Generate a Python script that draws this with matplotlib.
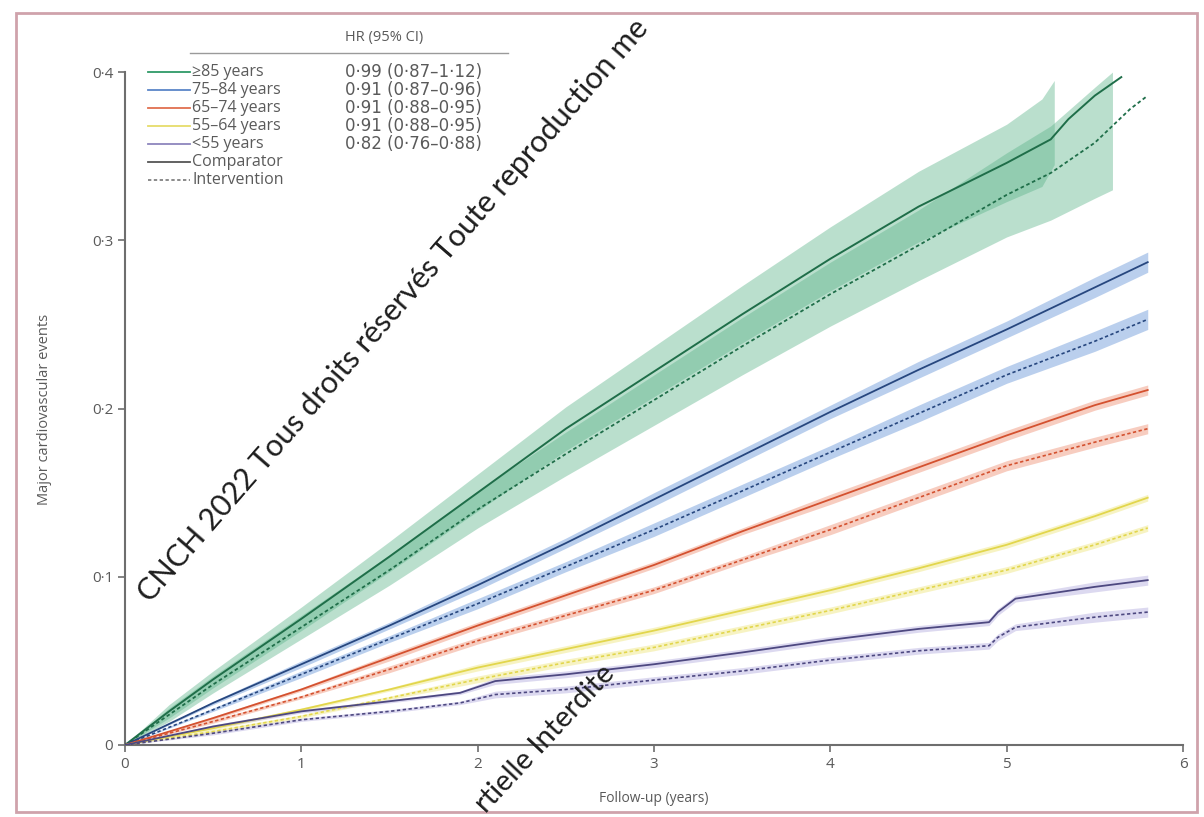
import matplotlib
matplotlib.use("Agg")
import matplotlib.pyplot as plt
from matplotlib.patches import Rectangle
from matplotlib.lines import Line2D

W, H = 1204, 817


def fx(px):
    return px / W


def fy(py):
    return 1 - py / H


# ---- data -------------------------------------------------------------
groups = ["\u226585 years", "75\u201384 years", "65\u201374 years", "55\u201364 years", "<55 years"]
hr_text = ["0\u00b799 (0\u00b787\u20131\u00b712)", "0\u00b791 (0\u00b787\u20130\u00b796)",
           "0\u00b791 (0\u00b788\u20130\u00b795)", "0\u00b791 (0\u00b788\u20130\u00b795)",
           "0\u00b782 (0\u00b776\u20130\u00b788)"]

# >=85 years (green)
t_g_comp = [0, 0.25, 0.5, 0.75, 1, 1.5, 2, 2.5, 3, 3.5, 4, 4.5, 5, 5.25, 5.35, 5.5, 5.65]
g_comp = [0, 0.020, 0.039, 0.057, 0.075, 0.112, 0.150, 0.188, 0.222, 0.256, 0.289, 0.320,
          0.346, 0.360, 0.372, 0.386, 0.397]
t_g_int = [0, 0.25, 0.5, 0.75, 1, 1.5, 2, 2.5, 3, 3.5, 4, 4.5, 5, 5.25, 5.5, 5.6, 5.7, 5.8]
g_int = [0, 0.018, 0.036, 0.053, 0.070, 0.104, 0.140, 0.173, 0.205, 0.237, 0.268, 0.297,
         0.327, 0.340, 0.358, 0.368, 0.378, 0.386]
t_g_comp_band = [0, 0.25, 0.5, 0.75, 1, 1.5, 2, 2.5, 3, 3.5, 4, 4.5, 5, 5.2, 5.27]
g_comp_lo = [0, 0.016, 0.034, 0.051, 0.068, 0.103, 0.139, 0.175, 0.207, 0.239, 0.270, 0.299,
             0.323, 0.332, 0.345]
g_comp_hi = [0, 0.024, 0.044, 0.063, 0.082, 0.121, 0.161, 0.201, 0.237, 0.273, 0.308, 0.341,
             0.369, 0.384, 0.395]
t_g_int_band = [0, 0.25, 0.5, 0.75, 1, 1.5, 2, 2.5, 3, 3.5, 4, 4.5, 5, 5.25, 5.5, 5.6]
g_int_lo = [0, 0.014, 0.031, 0.047, 0.063, 0.095, 0.129, 0.160, 0.190, 0.220, 0.249, 0.276,
            0.302, 0.312, 0.325, 0.330]
g_int_hi = [0, 0.022, 0.041, 0.059, 0.077, 0.113, 0.151, 0.186, 0.220, 0.254, 0.287, 0.318,
            0.352, 0.368, 0.391, 0.400]

# other age groups share one time grid
t_std = [0, 0.5, 1, 1.5, 2, 2.5, 3, 3.5, 4, 4.5, 5, 5.5, 5.8]
b_comp = [0, 0.025, 0.048, 0.071, 0.095, 0.120, 0.146, 0.172, 0.198, 0.223, 0.247, 0.272, 0.287]
b_int = [0, 0.021, 0.042, 0.063, 0.084, 0.106, 0.128, 0.151, 0.174, 0.197, 0.220, 0.240, 0.253]
b_hw = [0, 0.001, 0.002, 0.002, 0.003, 0.003, 0.004, 0.004, 0.004, 0.005, 0.005, 0.006, 0.006]

r_comp = [0, 0.016, 0.033, 0.052, 0.071, 0.089, 0.107, 0.127, 0.146, 0.165, 0.184, 0.202, 0.211]
r_int = [0, 0.014, 0.0285, 0.045, 0.062, 0.077, 0.092, 0.110, 0.128, 0.147, 0.166, 0.180, 0.188]
r_hw = [0, 0.001, 0.001, 0.002, 0.002, 0.002, 0.002, 0.002, 0.003, 0.003, 0.003, 0.003, 0.003]

y_comp = [0, 0.010, 0.021, 0.033, 0.046, 0.057, 0.068, 0.080, 0.092, 0.105, 0.119, 0.136, 0.147]
y_int = [0, 0.008, 0.017, 0.028, 0.039, 0.049, 0.058, 0.069, 0.080, 0.092, 0.104, 0.119, 0.129]
y_hw = [0, 0.001, 0.001, 0.001, 0.002, 0.002, 0.002, 0.002, 0.002, 0.002, 0.002, 0.002, 0.002]

t_p = [0, 0.5, 1, 1.5, 1.9, 2.1, 2.5, 3, 3.5, 4, 4.5, 4.9, 4.95, 5.05, 5.5, 5.8]
p_comp = [0, 0.011, 0.020, 0.026, 0.031, 0.038, 0.042, 0.048, 0.055, 0.0625, 0.069, 0.073,
          0.079, 0.087, 0.094, 0.098]
p_int = [0, 0.007, 0.015, 0.020, 0.025, 0.030, 0.033, 0.0386, 0.044, 0.0505, 0.056, 0.059,
         0.064, 0.070, 0.076, 0.079]
p_hw = [0, 0.001, 0.001, 0.001, 0.001, 0.002, 0.002, 0.002, 0.002, 0.002, 0.002, 0.002,
        0.002, 0.002, 0.003, 0.003]

x_ticks = [0, 1, 2, 3, 4, 5, 6]
y_ticks = [0, 0.1, 0.2, 0.3, 0.4]
y_tick_labels = ["0", "0\u00b71", "0\u00b72", "0\u00b73", "0\u00b74"]

# ---- styling -----------------------------------------------------------
FONT = ["Open Sans", "DejaVu Sans"]
plt.rcParams["font.family"] = FONT
TXT = "#5a5a5a"
AX = "#6e6e6e"

col = {
    "g": ("#1f6e49", "#5cb48a", 0.42, "#2f9a68"),
    "b": ("#27477f", "#8db0e2", 0.6, "#5b86c8"),
    "r": ("#d4512f", "#f2a48d", 0.55, "#e0704f"),
    "y": ("#e2d64c", "#f2ec9c", 0.6, "#e6dc6a"),
    "p": ("#4d4880", "#c6c0e6", 0.6, "#8d86bd"),
}

fig = plt.figure(figsize=(12.04, 8.17), dpi=100)
ax = fig.add_axes([fx(125), fy(745), fx(1183) - fx(125), fy(30) - fy(745)])

# green bands and lines
ax.fill_between(t_g_comp_band, g_comp_lo, g_comp_hi, color=col["g"][1], alpha=col["g"][2],
                lw=0, zorder=1)
ax.fill_between(t_g_int_band, g_int_lo, g_int_hi, color=col["g"][1], alpha=col["g"][2],
                lw=0, zorder=1)
ax.plot(t_g_comp, g_comp, color=col["g"][0], lw=1.4, zorder=3)
ax.plot(t_g_int, g_int, color=col["g"][0], lw=1.3, ls=(0, (2, 1.5)), zorder=3)

series = [
    ("b", t_std, b_comp, b_int, b_hw),
    ("r", t_std, r_comp, r_int, r_hw),
    ("y", t_std, y_comp, y_int, y_hw),
    ("p", t_p, p_comp, p_int, p_hw),
]
for key, t, comp, inter, hw in series:
    line_c, band_c, a, _ = col[key]
    lo_c = [v - h for v, h in zip(comp, hw)]
    hi_c = [v + h for v, h in zip(comp, hw)]
    lo_i = [v - h for v, h in zip(inter, hw)]
    hi_i = [v + h for v, h in zip(inter, hw)]
    ax.fill_between(t, lo_c, hi_c, color=band_c, alpha=a, lw=0, zorder=1)
    ax.fill_between(t, lo_i, hi_i, color=band_c, alpha=a, lw=0, zorder=1)
    ax.plot(t, comp, color=line_c, lw=1.3, zorder=3)
    ax.plot(t, inter, color=line_c, lw=1.2, ls=(0, (2, 1.5)), zorder=3)

ax.set_xlim(0, 6)
ax.set_ylim(0, 0.425)
ax.set_xticks(x_ticks)
ax.set_yticks(y_ticks)
ax.set_yticklabels(y_tick_labels)
for s in ["top", "right"]:
    ax.spines[s].set_visible(False)
for s in ["left", "bottom"]:
    ax.spines[s].set_color(AX)
    ax.spines[s].set_linewidth(1.5)
ax.spines["left"].set_bounds(0, 0.4)
ax.tick_params(colors=AX, labelcolor=TXT, labelsize=11, length=5, width=1.2, direction="out")
ax.set_xlabel("Follow-up (years)", fontsize=10, color=TXT, labelpad=14)
ax.set_ylabel("Major cardiovascular events", fontsize=10.5, color=TXT)
ax.yaxis.set_label_coords((52 - 125) / 1058, 0.47)

# ---- legend table ------------------------------------------------------
fig.text(fx(345), fy(38), "HR (95% CI)", fontsize=10.5, color=TXT, va="center")
fig.add_artist(Line2D([fx(190), fx(508)], [fy(53), fy(53)], color="#9a9a9a", lw=1))
row_y = [72, 90, 108, 126, 144, 162, 180]
for i, (g, hr) in enumerate(zip(groups, hr_text)):
    c = col["gbryp"[i]][3]
    fig.add_artist(Line2D([fx(148), fx(190)], [fy(row_y[i]), fy(row_y[i])], color=c, lw=1.3))
    fig.text(fx(192), fy(row_y[i]), g, fontsize=11.5, color=TXT, va="center")
    fig.text(fx(345), fy(row_y[i]), hr, fontsize=12, color=TXT, va="center",
             family=["DejaVu Sans"])
fig.add_artist(Line2D([fx(148), fx(190)], [fy(row_y[5]), fy(row_y[5])], color="#555555", lw=1.3))
fig.text(fx(192), fy(row_y[5]), "Comparator", fontsize=11.5, color=TXT, va="center")
fig.add_artist(Line2D([fx(148), fx(190)], [fy(row_y[6]), fy(row_y[6])], color="#777777", lw=1.2,
                      ls=(0, (2, 1.5))))
fig.text(fx(192), fy(row_y[6]), "Intervention", fontsize=11.5, color=TXT, va="center")

# ---- watermark and frame -----------------------------------------------
fig.text(fx(150), fy(604), "CNCH 2022 Tous droits r\u00e9serv\u00e9s Toute reproduction me",
         rotation=49, rotation_mode="anchor", ha="left", va="baseline", fontsize=22,
         family=["Lato", "DejaVu Sans"], color="#1e1e1e", zorder=10)
fig.text(fx(486), fy(814), "rtielle Interdite", rotation=47, rotation_mode="anchor",
         ha="left", va="baseline", fontsize=21, family=["Lato", "DejaVu Sans"],
         color="#1e1e1e", zorder=10)
fig.add_artist(Rectangle((fx(16), fy(812)), fx(1197) - fx(16), fy(13) - fy(812),
                         fill=False, edgecolor="#cfa2ab", lw=2))

fig.savefig("out.png", dpi=100)
